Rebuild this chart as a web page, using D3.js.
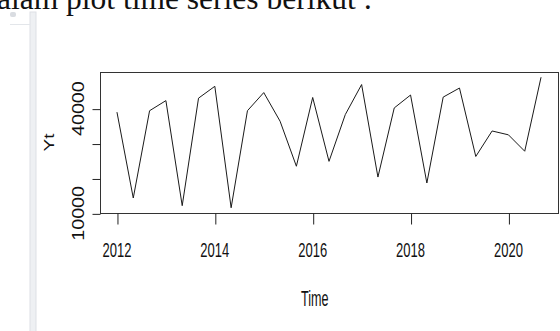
<!DOCTYPE html>
<html>
<head>
<meta charset="utf-8">
<script src="https://cdn.jsdelivr.net/npm/d3@7"></script>
<style>
  html, body { margin: 0; padding: 0; background: #ffffff; overflow: hidden; }
  svg { display: block; }
</style>
</head>
<body>
<svg id="chart" width="560" height="331"></svg>
<script>
// Quarterly-ish series: three observations per year, starting 2012
const startYear = 2012;
const frequency = 3;
const yt = [
  39000, 14400, 39400, 42300, 12200, 43000, 46400,
  11600, 39400, 44600, 36400, 23500, 43200, 24900,
  38300, 46900, 20400, 40200, 43900, 18700, 43300,
  45900, 26300, 33600, 32500, 27800, 49000
];
const xTickValues = [2012, 2014, 2016, 2018, 2020];
const xTickLabels = ["2012", "2014", "2016", "2018", "2020"];
const yTickValues = [10000, 20000, 30000, 40000];
const yTickLabels = ["10000", "", "", "40000"];
const xTitle = "Time";
const yTitle = "Yt";
const headingText = "alam plot time series berikut :";

const svg = d3.select("#chart");

// Document margin decorations
svg.append("rect").attr("x", 30).attr("y", 12).attr("width", 6).attr("height", 331)
  .attr("fill", "#eef0f3").attr("stroke", "#dde0e5").attr("stroke-width", 1);
svg.append("line").attr("x1", 10).attr("x2", 30).attr("y1", 24.5).attr("y2", 24.5)
  .attr("stroke", "#e3e6ea").attr("stroke-width", 1);
svg.append("rect").attr("x", 10).attr("y", 12).attr("width", 6).attr("height", 5).attr("rx", 2)
  .attr("fill", "#d9dce1");

// Heading line of the document text
svg.append("text")
  .attr("x", -3).attr("y", 8.5)
  .attr("font-family", "'Liberation Serif', 'Times New Roman', serif")
  .attr("font-size", 31.5)
  .attr("fill", "#111")
  .text(headingText);

// Series points
const data = yt.map((v, i) => ({ t: startYear + i / frequency, v }));

// R-style axis limits: data range padded by 4% on each side
function pad(ext) {
  const d = (ext[1] - ext[0]) * 0.04;
  return [ext[0] - d, ext[1] + d];
}

const box = { left: 100, right: 558, top: 72, bottom: 213 };

const x = d3.scaleLinear()
  .domain(pad(d3.extent(data, d => d.t)))
  .range([box.left, box.right]);
const y = d3.scaleLinear()
  .domain(pad(d3.extent(data, d => d.v)))
  .range([box.bottom, box.top]);

const ink = "#222";

// Line
const line = d3.line().x(d => x(d.t)).y(d => y(d.v));
svg.append("path")
  .datum(data)
  .attr("d", line)
  .attr("fill", "none")
  .attr("stroke", "#1a1a1a")
  .attr("stroke-width", 1)
  .attr("stroke-linejoin", "miter");

// Plot frame
svg.append("rect")
  .attr("x", box.left + 0.5).attr("y", box.top + 0.5)
  .attr("width", box.right - box.left).attr("height", box.bottom - box.top)
  .attr("fill", "none").attr("stroke", "#333").attr("stroke-width", 1);

// X axis
const xAxis = svg.append("g").attr("transform", `translate(0.5,${box.bottom + 0.5})`)
  .call(d3.axisBottom(x).tickValues(xTickValues).tickSize(11).tickFormat(() => ""));
xAxis.select(".domain").remove();
xAxis.selectAll(".tick line").attr("stroke", ink);

const xLab = svg.append("g");
xTickValues.forEach((t, i) => {
  xLab.append("text")
    .attr("transform", `translate(${x(t)},257) scale(1,1.5)`)
    .attr("text-anchor", "middle")
    .attr("font-family", "'Liberation Sans', Arial, sans-serif")
    .attr("font-size", 13)
    .attr("fill", "#111")
    .text(xTickLabels[i]);
});

// Y axis
const yAxis = svg.append("g").attr("transform", `translate(${box.left + 0.5},0.5)`)
  .call(d3.axisLeft(y).tickValues(yTickValues).tickSize(8).tickFormat(() => ""));
yAxis.select(".domain").remove();
yAxis.selectAll(".tick line").attr("stroke", ink);

yTickValues.forEach((v, i) => {
  if (!yTickLabels[i]) return;
  svg.append("text")
    .attr("transform", `translate(83.5,${y(v)}) rotate(-90) scale(1.23,1)`)
    .attr("text-anchor", "middle")
    .attr("font-family", "'Liberation Sans', Arial, sans-serif")
    .attr("font-size", 16)
    .attr("fill", "#111")
    .text(yTickLabels[i]);
});

// Axis titles
svg.append("text")
  .attr("transform", `translate(${(x(xTickValues[0]) + x(xTickValues[4])) / 2 + 2},306) scale(1,1.7)`)
  .attr("text-anchor", "middle")
  .attr("font-family", "'Liberation Sans', Arial, sans-serif")
  .attr("font-size", 12.6)
  .attr("fill", "#111")
  .text(xTitle);

svg.append("text")
  .attr("transform", `translate(53.5,${(box.top + box.bottom) / 2}) rotate(-90) scale(1.35,1)`)
  .attr("text-anchor", "middle")
  .attr("font-family", "'Liberation Sans', Arial, sans-serif")
  .attr("font-size", 14)
  .attr("fill", "#111")
  .text(yTitle);
</script>
</body>
</html>
